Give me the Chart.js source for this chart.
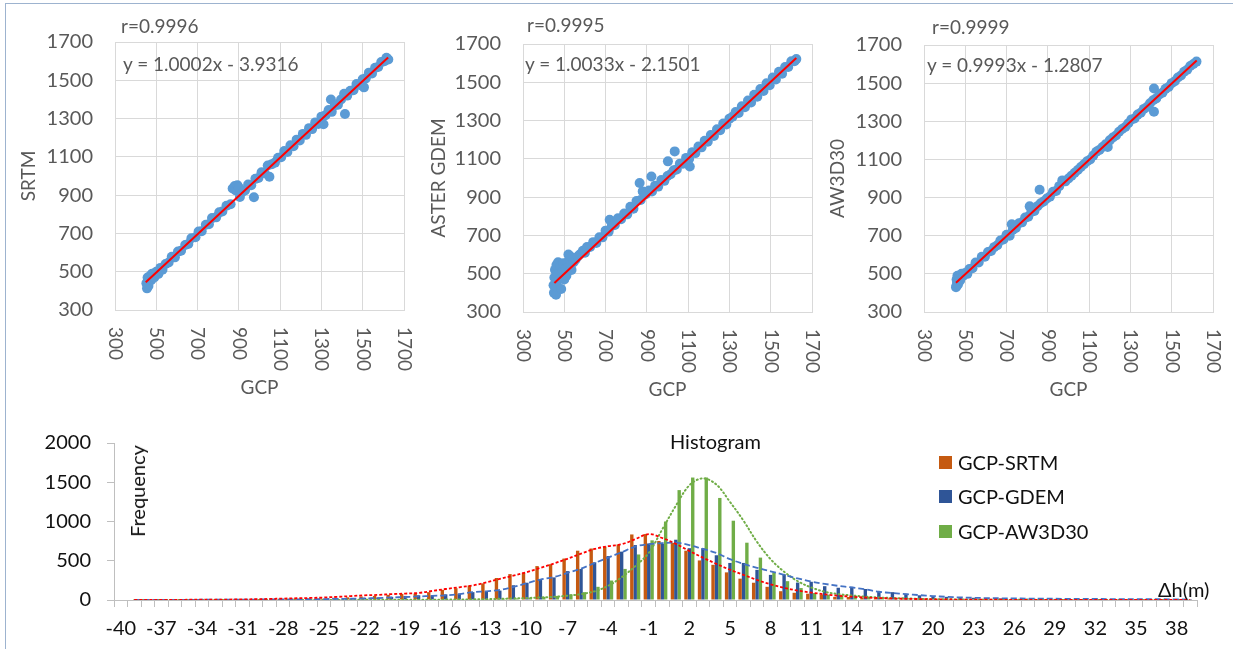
<!DOCTYPE html>
<html>
<head>
<meta charset="utf-8">
<script src="https://cdn.jsdelivr.net/npm/chart.js@4.4.1/dist/chart.umd.min.js"></script>
<style>
  html, body { margin: 0; padding: 0; background: #fff; }
  #page { position: relative; width: 1233px; height: 649px; overflow: hidden; font-family: Lato, "Liberation Sans", sans-serif; }
  #frame { position: absolute; left: 5px; top: 3px; width: 1240px; height: 660px; border-left: 1px solid #9DB3CF; border-top: 1px solid #9DB3CF; }
  canvas { position: absolute; }
  .txt { position: absolute; white-space: nowrap; font-size: 19px; line-height: 20px; }
  .big { font-size: 20px; }
  .gray { color: #595959; }
  .black { color: #111; }
  .sw { position: absolute; width: 13px; height: 13px; }
</style>
</head>
<body>
<div id="page">
  <div id="frame"></div>

  <canvas id="sc-srtm" width="425" height="399" style="left:0;top:0"></canvas>
  <canvas id="sc-gdem" width="425" height="401" style="left:410px;top:0"></canvas>
  <canvas id="sc-aw3d" width="413" height="401" style="left:820px;top:0"></canvas>
  <canvas id="hist" width="1233" height="234" style="left:0;top:415px"></canvas>

  <!-- scatter annotations -->
  <div class="txt gray" style="left:121px;top:16px">r=0.9996</div>
  <div class="txt gray" style="left:123px;top:54px">y = 1.0002x - 3.9316</div>
  <div class="txt gray" style="left:527px;top:15px">r=0.9995</div>
  <div class="txt gray" style="left:525px;top:54px">y = 1.0033x - 2.1501</div>
  <div class="txt gray" style="left:932px;top:17px">r=0.9999</div>
  <div class="txt gray" style="left:927px;top:55px">y = 0.9993x - 1.2807</div>

  <!-- histogram annotations -->
  <div class="txt big black" style="left:670px;top:431px">Histogram</div>
  <div class="txt big black" style="left:137px;top:491px;transform:translate(-50%,-50%) rotate(-90deg)">Frequency</div>
  <div class="txt big black" style="left:1158px;top:579px">Δh(m)</div>
  <div class="sw" style="left:939px;top:456px;background:#C55A11"></div>
  <div class="txt big black" style="left:958px;top:452px">GCP-SRTM</div>
  <div class="sw" style="left:939px;top:490px;background:#2F5597"></div>
  <div class="txt big black" style="left:958px;top:486px">GCP-GDEM</div>
  <div class="sw" style="left:939px;top:525px;background:#70AD47"></div>
  <div class="txt big black" style="left:958px;top:521px">GCP-AW3D30</div>
</div>

<script>
// ---- SCATTER DATA (GCP elevation, DEM elevation) ----
const srtmPoints = [
  [452,440],[455,413],[458,470],[460,452],[462,425],[465,462],[470,478],[475,455],[480,490],[490,470],
  [500,500],[510,488],[520,520],[530,510],[545,540],[560,548],[575,578],[590,575],[605,605],[620,610],
  [640,640],[655,645],[670,675],[690,680],[705,710],[720,712],[740,745],[755,748],[770,780],[790,784],
  [805,810],[820,815],[840,845],[860,852],[870,935],[880,948],[885,925],[893,952],[900,940],[905,890],
  [915,915],[930,925],[945,955],[960,952],[973,889],[980,985],[995,990],[1010,1020],[1025,1015],[1040,1055],
  [1048,996],[1060,1062],[1075,1070],[1090,1095],[1105,1098],[1120,1130],[1135,1125],[1150,1160],[1165,1155],[1180,1190],
  [1195,1185],[1210,1220],[1225,1215],[1240,1250],[1255,1245],[1270,1280],[1285,1272],[1300,1310],[1310,1270],[1320,1318],
  [1335,1345],[1346,1400],[1350,1335],[1365,1370],[1380,1372],[1395,1400],[1410,1430],[1414,1324],[1425,1420],[1440,1445],
  [1455,1448],[1470,1480],[1485,1475],[1500,1505],[1506,1463],[1515,1510],[1530,1540],[1545,1535],[1560,1565],[1575,1570],
  [1590,1595],[1605,1600],[1615,1618],[1624,1609]
];
const gdemPoints = [
  [448,440],[450,400],[452,480],[455,520],[458,455],[460,390],[462,545],[465,430],[468,500],[470,560],
  [475,470],[480,540],[485,420],[490,510],[495,555],[500,470],[505,530],[510,490],[515,560],[520,600],
  [525,540],[530,590],[535,520],[545,560],[555,575],[565,590],[575,600],[590,620],[600,610],[610,640],
  [625,640],[640,665],[655,660],[670,690],[685,690],[700,725],[715,720],[720,782],[730,750],[745,755],
  [760,790],[775,785],[790,815],[805,810],[820,850],[835,840],[850,880],[865,974],[870,885],[880,930],
  [895,915],[910,935],[922,1008],[925,930],[940,960],[955,955],[970,990],[985,985],[1002,1087],[1000,1010],
  [1015,1020],[1035,1139],[1030,1040],[1045,1045],[1060,1075],[1075,1075],[1090,1105],[1108,1060],[1105,1100],[1120,1135],
  [1135,1130],[1150,1165],[1165,1160],[1180,1195],[1195,1190],[1210,1225],[1225,1220],[1240,1255],[1255,1250],[1270,1285],
  [1285,1280],[1300,1310],[1315,1320],[1330,1345],[1345,1340],[1360,1375],[1375,1370],[1390,1405],[1405,1395],[1420,1435],
  [1435,1425],[1450,1465],[1465,1455],[1480,1495],[1495,1485],[1510,1525],[1525,1515],[1540,1555],[1555,1545],[1570,1580],
  [1585,1580],[1600,1610],[1615,1610],[1624,1621]
];
const aw3dPoints = [
  [455,430],[457,436],[458,470],[460,455],[462,490],[465,445],[470,480],[475,465],[482,500],[490,490],
  [500,505],[510,500],[520,525],[535,530],[550,560],[565,560],[580,590],[595,590],[610,615],[625,620],
  [640,640],[655,650],[670,675],[685,680],[700,705],[715,700],[725,760],[730,730],[745,740],[760,765],
  [775,770],[790,795],[805,800],[812,854],[820,825],[835,830],[850,855],[860,941],[865,870],[880,880],
  [895,895],[910,905],[925,930],[940,935],[955,960],[970,990],[985,985],[1000,1000],[1015,1015],[1030,1030],
  [1045,1045],[1060,1060],[1075,1075],[1090,1090],[1105,1100],[1120,1120],[1135,1140],[1150,1150],[1165,1165],[1180,1180],
  [1190,1165],[1200,1200],[1215,1215],[1230,1225],[1245,1245],[1260,1260],[1275,1270],[1290,1290],[1305,1310],[1320,1315],
  [1335,1335],[1350,1345],[1365,1365],[1380,1375],[1395,1395],[1414,1472],[1414,1350],[1410,1410],[1425,1420],[1440,1440],
  [1455,1450],[1470,1470],[1485,1480],[1500,1500],[1515,1510],[1530,1530],[1545,1540],[1560,1560],[1575,1570],[1590,1590],
  [1605,1600],[1620,1613]
];

// linear fits shown on the charts
const fitSlopes     = [1.0002, 1.0033, 0.9993];
const fitIntercepts = [-3.9316, -2.1501, -1.2807];
const fitRanges     = [[449, 1623], [452, 1624], [455, 1621]];
const scatterTicks  = [300, 500, 700, 900, 1100, 1300, 1500, 1700];

// ---- HISTOGRAM DATA (Δh categories, counts) ----
const dhCategories = [
  -40,-39,-38,-37,-36,-35,-34,-33,-32,-31,-30,-29,-28,-27,-26,-25,-24,-23,-22,-21,
  -20,-19,-18,-17,-16,-15,-14,-13,-12,-11,-10,-9,-8,-7,-6,-5,-4,-3,-2,-1,
  0,1,2,3,4,5,6,7,8,9,10,11,12,13,14,15,16,17,18,19,
  20,21,22,23,24,25,26,27,28,29,30,31,32,33,34,35,36,37,38,39
];
const dhTickLabels = ['-40','-37','-34','-31','-28','-25','-22','-19','-16','-13','-10','-7','-4','-1',
  '2','5','8','11','14','17','20','23','26','29','32','35','38'];

const srtmCounts = [
  0,0,0,1,1,2,2,3,4,5, 7,9,12,15,18,22,28,34,45,52,
  66,78,82,100,130,150,185,212,280,330, 348,432,456,528,628,656,680,708,835,840,
  752,728,628,504,448,352,272,220,168,112, 92,80,70,40,38,30,24,20,15,12,
  10,8,6,5,4,3,3,2,2,1, 1,1,1,0,0,0,0,0,0,0
];
const gdemCounts = [
  0,0,0,0,1,1,2,2,3,4, 5,6,8,10,12,14,17,20,28,32,
  40,52,60,60,72,80,100,112,120,188, 220,256,288,368,396,480,560,616,700,720,
  716,768,660,660,570,472,472,384,320,328, 222,232,176,156,168,140,112,100,80,60,
  48,40,34,28,24,20,18,16,15,14, 12,10,8,6,5,4,3,2,1,1
];
const aw3dCounts = [
  0,0,0,0,0,0,0,0,0,1, 1,1,1,2,2,2,3,3,4,4,
  5,5,6,6,7,7,8,10,14,20, 28,40,52,72,100,168,248,396,580,760,
  1000,1400,1560,1560,1300,1010,730,540,352,240, 152,88,68,60,50,40,30,25,20,15,
  10,8,6,5,4,3,2,2,1,1, 1,1,0,0,0,0,0,0,0,0
];

// fitted distribution curves
const srtmCurve = [
  null,0,1,1,2,3,4,5,6,8, 10,14,18,22,26,32,40,50,60,65,
  75,82,90,115,140,162,185,225,270,310, 355,410,465,525,590,650,685,710,775,840,
  790,715,625,540,460,385,320,255,200,155, 120,95,72,55,42,32,25,20,15,12,
  9,7,5,4,3,3,2,2,1,1, 1,1,1,0,0,0,0,0,0,0
];
const gdemCurve = [
  null,0,1,1,2,2,3,4,5,5, 6,7,8,9,10,12,14,16,20,25,
  32,38,45,52,60,75,100,110,128,165, 215,260,292,345,400,470,540,608,680,712,
  725,730,700,650,600,520,460,410,365,320, 275,235,205,180,160,135,105,88,75,62,
  50,40,33,28,24,22,20,18,17,16, 15,14,13,12,12,12,11,10,8,5
];
const aw3dCurve = [
  null,0,0,0,0,0,0,0,0,0, 0,0,0,1,1,1,1,2,2,2,
  2,3,3,4,5,6,8,10,15,20, 25,32,40,55,75,110,180,290,430,600,
  900,1200,1460,1550,1470,1250,1010,740,520,360, 240,160,105,75,58,42,32,25,20,15,
  12,9,7,5,4,3,3,2,2,1, 1,1,1,0,0,0,0,0,0,0
];

// ---- STYLE ----
const FONT = 'Lato, "Liberation Sans", sans-serif';
const GRAY_TEXT = '#595959';
const GRID = '#D9D9D9';
const plain = v => String(v);   // no thousands separator

// x tick labels of the scatter plots read top-to-bottom (rotated clockwise)
const rotatedXTicks = {
  id: 'rotatedXTicks',
  afterDraw(chart) {
    const sx = chart.scales.x;
    const ctx = chart.ctx;
    ctx.save();
    ctx.fillStyle = GRAY_TEXT;
    ctx.font = '19px ' + FONT;
    ctx.textAlign = 'left';
    ctx.textBaseline = 'middle';
    sx.ticks.forEach(t => {
      ctx.save();
      ctx.translate(sx.getPixelForValue(t.value), sx.top + 17);
      ctx.rotate(Math.PI / 2);
      ctx.fillText(String(t.value), 0, 0);
      ctx.restore();
    });
    ctx.restore();
  }
};

function makeScatter(id, points, i, yTitle, box) {
  const [x0, x1] = fitRanges[i];
  const fitLine = [x0, x1].map(x => ({ x, y: fitSlopes[i] * x + fitIntercepts[i] }));
  const canvas = document.getElementById(id);

  new Chart(canvas, {
    type: 'scatter',
    data: {
      datasets: [
        { type: 'line', data: fitLine, borderColor: '#FF0000', borderWidth: 2, pointRadius: 0 },
        { data: points.map(([x, y]) => ({ x, y })), backgroundColor: '#5B9BD5', borderWidth: 0, pointRadius: 5 }
      ]
    },
    options: {
      responsive: false,
      animation: false,
      devicePixelRatio: 1,
      plugins: { legend: { display: false }, tooltip: { enabled: false } },
      layout: { padding: { left: box.padLeft, top: box.top, right: box.padRight, bottom: box.padBottom } },
      scales: {
        x: {
          type: 'linear', min: 300, max: 1700,
          afterBuildTicks: s => { s.ticks = scatterTicks.map(v => ({ value: v })); },
          ticks: { display: false },
          grid: { color: GRID, drawTicks: false },
          border: { color: GRID },
          title: { display: true, text: 'GCP', color: GRAY_TEXT, font: { family: FONT, size: 19 }, padding: 0 },
          afterFit: s => { s.height = box.xHeight; }
        },
        y: {
          type: 'linear', min: 300, max: 1700,
          afterBuildTicks: s => { s.ticks = scatterTicks.map(v => ({ value: v })); },
          ticks: { color: GRAY_TEXT, font: { family: FONT, size: 20 }, padding: 22, callback: plain },
          grid: { color: GRID, drawTicks: false },
          border: { color: GRID },
          title: { display: true, text: yTitle, color: GRAY_TEXT, font: { family: FONT, size: 19 }, padding: 0 },
          afterFit: s => { s.width = box.yWidth; }
        }
      }
    },
    plugins: [rotatedXTicks]
  });
}

// plot boxes: chart area edges inside each canvas
makeScatter('sc-srtm', srtmPoints, 0, 'SRTM',       { padLeft: 17, yWidth: 98, top: 42, padRight: 21, xHeight: 89, padBottom: 0 });
makeScatter('sc-gdem', gdemPoints, 1, 'ASTER GDEM', { padLeft: 17, yWidth: 96, top: 44, padRight: 23, xHeight: 89, padBottom: 0 });
makeScatter('sc-aw3d', aw3dPoints, 2, 'AW3D30',     { padLeft: 6,  yWidth: 98, top: 45, padRight: 20, xHeight: 89, padBottom: 0 });

// ---- HISTOGRAM ----
const AXIS = '#BFBFBF';
new Chart(document.getElementById('hist'), {
  type: 'bar',
  data: {
    labels: dhCategories,
    datasets: [
      { type: 'line', data: srtmCurve, borderColor: '#FF0000', borderWidth: 1.8, borderDash: [3, 2], pointRadius: 0, tension: 0.35, spanGaps: true },
      { type: 'line', data: gdemCurve, borderColor: '#4472C4', borderWidth: 1.8, borderDash: [6, 3], pointRadius: 0, tension: 0.35, spanGaps: true },
      { type: 'line', data: aw3dCurve, borderColor: '#70AD47', borderWidth: 2, borderDash: [1, 3], borderCapStyle: 'round', pointRadius: 0, tension: 0.35, spanGaps: true },
      { label: 'GCP-SRTM',   data: srtmCounts, backgroundColor: '#C55A11', categoryPercentage: 0.75, barPercentage: 1 },
      { label: 'GCP-GDEM',   data: gdemCounts, backgroundColor: '#2F5597', categoryPercentage: 0.75, barPercentage: 1 },
      { label: 'GCP-AW3D30', data: aw3dCounts, backgroundColor: '#70AD47', categoryPercentage: 0.75, barPercentage: 1 }
    ]
  },
  options: {
    responsive: false,
    animation: false,
    devicePixelRatio: 1,
    plugins: { legend: { display: false }, tooltip: { enabled: false } },
    layout: { padding: { left: 0, top: 18, right: 36, bottom: 0 } },
    scales: {
      x: {
        ticks: {
          autoSkip: false, maxRotation: 0, minRotation: 0,
          color: '#111', font: { family: FONT, size: 20 }, padding: 10,
          callback: (v, i) => dhTickLabels.includes(String(dhCategories[i])) ? String(dhCategories[i]) : ''
        },
        grid: { offset: true, drawOnChartArea: false, drawTicks: true, tickLength: 7, color: AXIS },
        border: { color: AXIS },
        afterFit: s => { s.height = 49; }
      },
      y: {
        min: 0, max: 2000,
        ticks: { stepSize: 500, color: '#111', font: { family: FONT, size: 20 }, padding: 16, callback: plain },
        grid: { drawOnChartArea: false, drawTicks: true, tickLength: 7, color: AXIS },
        border: { color: AXIS },
        afterFit: s => { s.width = 114; }
      }
    }
  }
});
</script>
</body>
</html>
